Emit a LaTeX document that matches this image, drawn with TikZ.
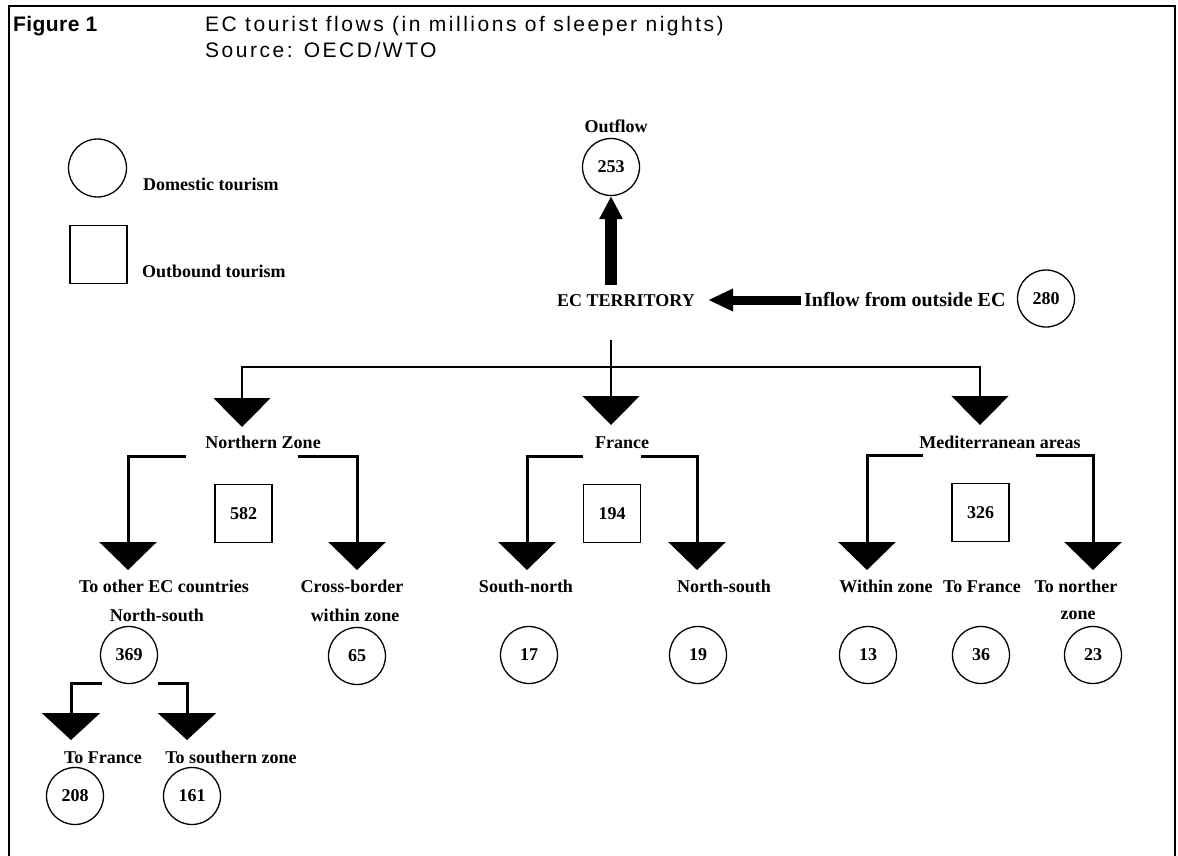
\documentclass[tikz,border=0pt]{standalone}
\usepackage{fontspec}
\setmainfont{Liberation Serif}
\newfontfamily\headfont{Liberation Sans}[LetterSpace=12]
\newfontfamily\headboldfont{Liberation Sans}[LetterSpace=2]
\usetikzlibrary{arrows.meta}

\begin{document}
\begin{tikzpicture}[x=1pt, y=-1pt,
    every node/.style={font=\fontsize{18}{20}\selectfont\bfseries, inner sep=2pt},
    lbl/.style={anchor=base},
    val/.style={circle, draw, line width=1.3pt, minimum size=57pt, inner sep=0pt},
    outb/.style={rectangle, draw, line width=1.3pt, minimum width=57pt, minimum height=58pt, inner sep=0pt},
    feed/.style={line width=1.4pt, -{Triangle[length=29pt, width=57pt]}},
    branch/.style={line width=3pt, -{Triangle[length=28pt, width=57pt]}},
    fat/.style={-{Triangle[length=23pt, width=22pt]}}]
\useasboundingbox (0,0) rectangle (1178,856);

% Frame
\draw[line width=2.6pt] (9,856) -- (9,6) -- (1175,6) -- (1175,856);

% Heading
\node[anchor=base west, inner sep=0pt, font=\fontsize{21}{22}\headboldfont\bfseries] (fig) at (13,32) {Figure 1};
\node[anchor=base west, inner sep=0pt, font=\fontsize{21}{22}\headfont] (ttl) at (205,32) {EC tourist flows (in millions of sleeper nights)};
\node[anchor=base west, inner sep=0pt, font=\fontsize{21}{22}\headfont] (src) at (205,58) {Source: OECD/WTO};

% Legend
\node[val, minimum size=58pt] (keyc) at (97.5,168) {};
\node[anchor=base west, inner sep=0pt] (keyct) at (143,190) {Domestic tourism};
\node[outb] (keys) at (98.5,254.5) {};
\node[anchor=base west, inner sep=0pt] (keyst) at (142,277) {Outbound tourism};

% EC territory, outflow and inflow
\node[lbl] (outl) at (616,132) {Outflow};
\node[val] (c253) at (611,167) {253};
\node[lbl] (ec) at (626,306) {EC TERRITORY};
\node[anchor=base west, inner sep=0pt, font=\fontsize{20}{20}\selectfont\bfseries] (infl) at (804,306) {Inflow from outside EC};
\node[val] (c280) at (1046,298.5) {280};
\draw[fat, line width=12pt] (ec.north) ++(-15,-7) coordinate (upfoot) (upfoot) -- (c253.south);
\coordinate (infoot) at (801,300);
\coordinate (intip) at (708,300);
\draw[fat, line width=9pt, -{Triangle[length=25pt, width=21pt]}] (infoot) -- (intip);

% Split into the three zones
\coordinate (split) at (611,340);
\coordinate (hub) at (611,367);
\coordinate (nztip) at (242,427);
\coordinate (frtip) at (611,425);
\coordinate (medtip) at (980,425);
\draw[feed] (split) -- (frtip);
\draw[feed] (hub) -| (nztip);
\draw[feed] (hub) -| (medtip);

\node[lbl] (nz) at (263,448) {Northern Zone};
\node[lbl] (fr) at (622,448) {France};
\node[lbl] (med) at (1000,448) {Mediterranean areas};

% Outbound totals
\node[outb] (b582) at (243.5,513.5) {582};
\node[outb] (b194) at (612,513.5) {194};
\node[outb] (b326) at (980.5,512.5) {326};

% Branches of each zone
\coordinate (nzl) at (186,456);  \coordinate (nzltip) at (128,570);
\coordinate (nzr) at (298,456);  \coordinate (nzrtip) at (357,570);
\coordinate (frl) at (583,456);  \coordinate (frltip) at (527,570);
\coordinate (frr) at (641,456);  \coordinate (frrtip) at (697,570);
\coordinate (medl) at (923,455); \coordinate (medltip) at (867,570);
\coordinate (medr) at (1036,455); \coordinate (medrtip) at (1093,570);
\foreach \a/\b in {nzl/nzltip, nzr/nzrtip, frl/frltip, frr/frrtip, medl/medltip, medr/medrtip}
  \draw[branch] (\a) -| (\b);

% Northern zone
\node[lbl] (toec) at (164,592) {To other EC countries};
\node[lbl] (ns1) at (157,621) {North-south};
\node[val] (c369) at (129,655) {369};
\node[lbl] (cb) at (352,592) {Cross-border};
\node[lbl] (wz1) at (355,621) {within zone};
\node[val] (c65) at (357,656) {65};

% France
\node[lbl] (sn) at (526,592) {South-north};
\node[val] (c17) at (529,655) {17};
\node[lbl] (ns2) at (724,592) {North-south};
\node[val] (c19) at (698,655) {19};

% Mediterranean areas
\node[lbl] (wz2) at (886,592) {Within zone};
\node[val] (c13) at (868,655) {13};
\node[lbl] (tf2) at (982,592) {To France};
\node[val] (c36) at (981,655) {36};
\node[lbl] (tn) at (1076,592) {To norther};
\node[lbl] (tnz) at (1078,619) {zone};
\node[val] (c23) at (1093,655) {23};

% North-south split
\coordinate (nsl) at (102,683); \coordinate (nsltip) at (71,740);
\coordinate (nsr) at (158,683); \coordinate (nsrtip) at (187,740);
\draw[branch, -{Triangle[length=27pt, width=58pt]}] (nsl) -| (nsltip);
\draw[branch, -{Triangle[length=27pt, width=58pt]}] (nsr) -| (nsrtip);
\node[lbl] (tf1) at (103,763) {To France};
\node[lbl] (tsz) at (231,763) {To southern zone};
\node[val] (c208) at (75,796) {208};
\node[val] (c161) at (192,796) {161};
\end{tikzpicture}
\end{document}
